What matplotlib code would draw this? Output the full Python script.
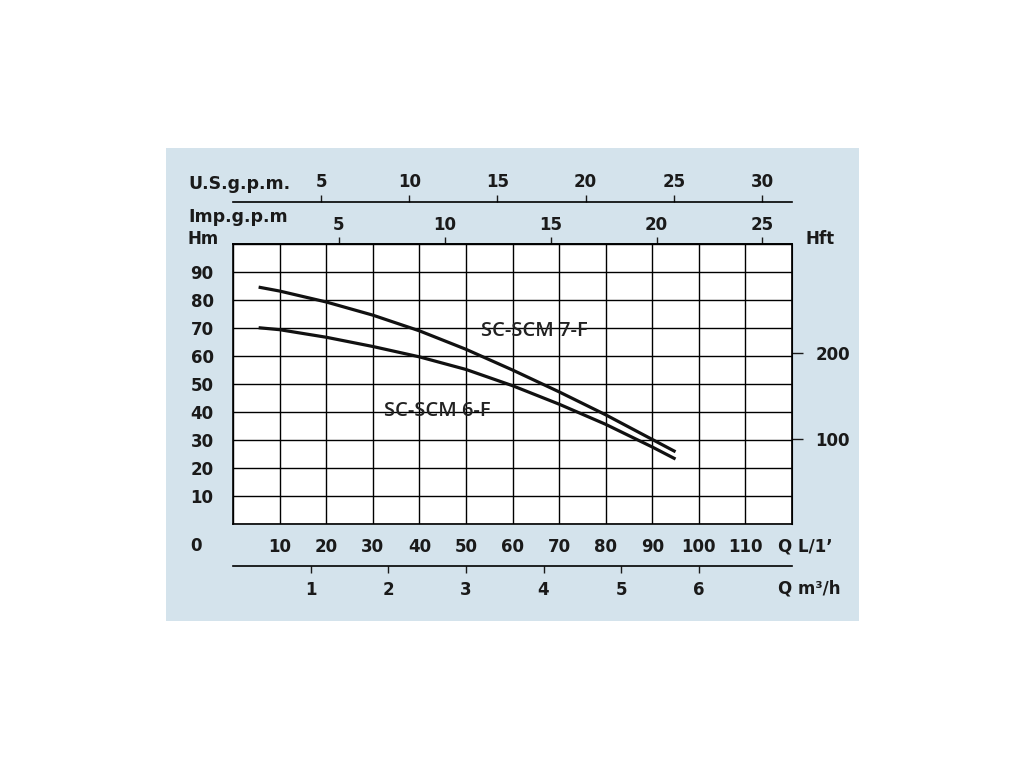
import matplotlib
matplotlib.use('Agg')
from matplotlib import pyplot as plt
from matplotlib.patches import Rectangle

# flow in L/min, head in m
q_7f = [5.5, 10, 20, 30, 40, 50, 60, 70, 80, 90, 95]
h_7f = [84.6, 83.2, 79.3, 74.6, 69.0, 62.4, 55.0, 47.2, 39.0, 30.2, 25.8]
q_6f = [5.5, 10, 20, 30, 40, 50, 60, 70, 80, 90, 95]
h_6f = [70.1, 69.4, 66.7, 63.4, 59.7, 55.2, 49.4, 42.8, 35.6, 27.5, 23.2]

q_ticks = [10, 20, 30, 40, 50, 60, 70, 80, 90, 100, 110]
h_ticks = [10, 20, 30, 40, 50, 60, 70, 80, 90]
usgpm_ticks = [5, 10, 15, 20, 25, 30]
impgpm_ticks = [5, 10, 15, 20, 25]
m3h_ticks = [1, 2, 3, 4, 5, 6]
hft_ticks = [100, 200]

BG = '#d4e3ec'
TXT = '#1a1a1a'

fig = plt.figure(figsize=(10.24, 7.68), dpi=100)
fig.patches.append(Rectangle((166/1024, 1-621/768), 693/1024, 473/768,
                             transform=fig.transFigure, facecolor=BG,
                             edgecolor='none', zorder=-10))

ax = fig.add_axes([233/1024, 1-524/768, 559/1024, 280/768])
ax.set_facecolor('white')
ax.set_xlim(0, 120)
ax.set_ylim(0, 100)
ax.set_xticks(range(0, 121, 10))
ax.set_yticks(range(0, 101, 10))
ax.grid(True, color='black', linewidth=1.0)
ax.set_axisbelow(True)
for s in ax.spines.values():
    s.set_linewidth(1.2)
ax.tick_params(length=0, labelsize=12, colors=TXT)
ax.tick_params(axis='x', pad=10)
ax.tick_params(axis='y', pad=14)
ax.set_xticklabels([str(v) if v in q_ticks else '' for v in range(0, 121, 10)],
                   fontweight='bold')
ax.set_yticklabels([str(v) if v in h_ticks else '' for v in range(0, 101, 10)],
                   fontweight='bold')

ax.plot(q_7f, h_7f, color='#111111', linewidth=2.3, solid_capstyle='butt')
ax.plot(q_6f, h_6f, color='#111111', linewidth=2.3, solid_capstyle='butt')
ax.text(64.8, 69, 'SC-SCM 7-F', fontsize=14.5, color='#222222', ha='center', va='center',
        family='Open Sans', fontweight='semibold')
ax.text(43.8, 40.5, 'SC-SCM 6-F', fontsize=14.5, color='#222222', ha='center', va='center',
        family='Open Sans', fontweight='semibold')

# secondary scales
us = ax.secondary_xaxis(322/280, functions=(lambda q: q / 3.785, lambda g: g * 3.785))
us.set_xticks(usgpm_ticks)
imp = ax.secondary_xaxis('top', functions=(lambda q: q / 4.546, lambda g: g * 4.546))
imp.set_xticks(impgpm_ticks)
m3 = ax.secondary_xaxis(-42/280, functions=(lambda q: q * 0.06, lambda m: m / 0.06))
m3.set_xticks(m3h_ticks)
for sa in (us, imp, m3):
    sa.tick_params(length=5, width=1, labelsize=12, colors=TXT)
    for sp in sa.spines.values():
        sp.set_linewidth(1.2)
    for lab in sa.get_xticklabels():
        lab.set_fontweight('bold')
us.tick_params(pad=3)
imp.tick_params(pad=2.5)
m3.tick_params(pad=6)

hft = ax.secondary_yaxis('right', functions=(lambda m: m * 3.281, lambda f: f / 3.281))
hft.set_yticks(hft_ticks)
hft.tick_params(length=8, width=1, labelsize=12, colors=TXT, pad=9)
for lab in hft.get_yticklabels():
    lab.set_fontweight('bold')

# axis captions
fig.text(239/1024, 1-184/768, 'U.S.g.p.m.', fontsize=12.5, fontweight='bold', color=TXT,
         ha='center', va='center')
fig.text(238/1024, 1-217/768, 'Imp.g.p.m', fontsize=12.5, fontweight='bold', color=TXT,
         ha='center', va='center')
fig.text(203/1024, 1-239/768, 'Hm', fontsize=12, fontweight='bold', color=TXT,
         ha='center', va='center')
fig.text(820/1024, 1-239/768, 'Hft', fontsize=12, fontweight='bold', color=TXT,
         ha='center', va='center')
fig.text(196/1024, 1-546/768, '0', fontsize=12, fontweight='bold', color=TXT,
         ha='center', va='center')
fig.text(778/1024, 1-547/768, 'Q L/1’', fontsize=12, fontweight='bold', color=TXT,
         ha='left', va='center')
fig.text(778/1024, 1-588/768, 'Q m³/h', fontsize=12, fontweight='bold', color=TXT,
         ha='left', va='center')

plt.savefig('out.png', dpi=100)
